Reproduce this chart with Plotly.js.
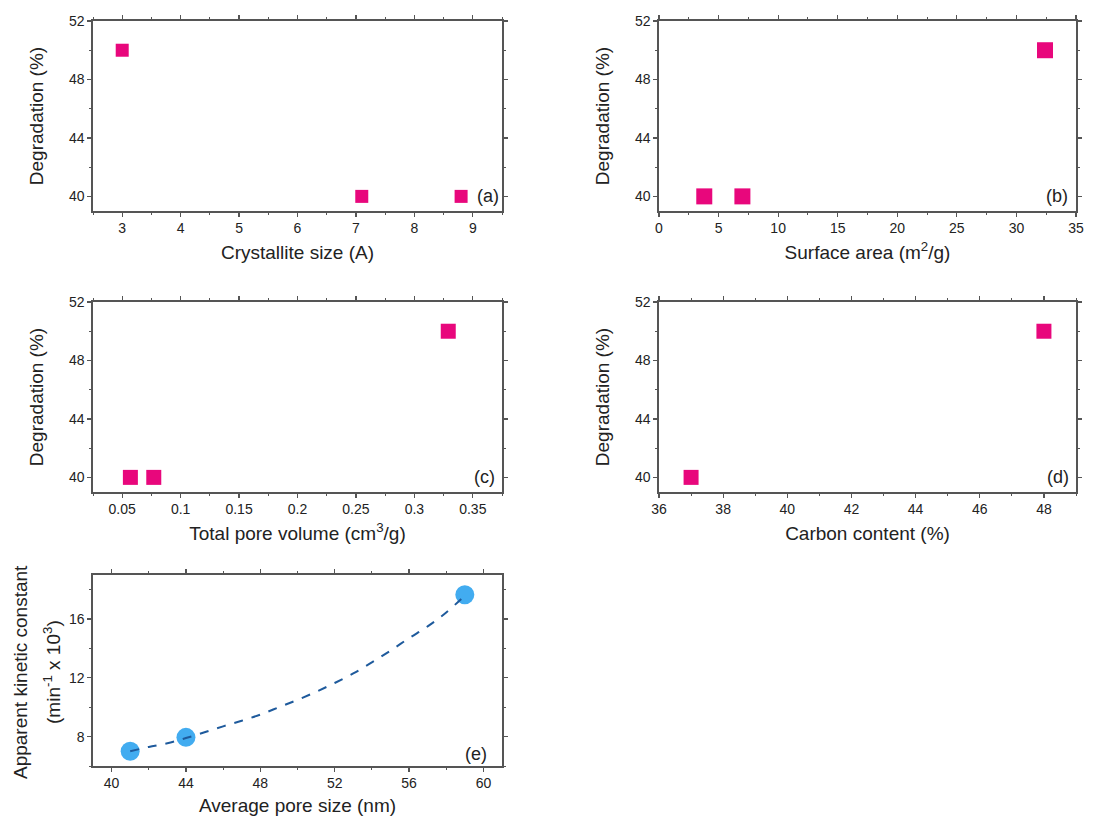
<!DOCTYPE html>
<html>
<head>
<meta charset="utf-8">
<script src="https://cdn.plot.ly/plotly-3.0.1.min.js"></script>
<style>html,body{margin:0;padding:0;background:#fff;}#chart{width:1108px;height:816px;}</style>
</head>
<body>
<div id="chart"></div>
<script>
// Panel (a): crystallite size vs degradation
const crystalliteSize = [3.0, 7.1, 8.8];
const degradationA = [50, 40, 40];
// Panel (b): surface area vs degradation
const surfaceArea = [3.8, 7.0, 32.4];
const degradationB = [40, 40, 50];
// Panel (c): total pore volume vs degradation
const poreVolume = [0.057, 0.077, 0.329];
const degradationC = [40, 40, 50];
// Panel (d): carbon content vs degradation
const carbonContent = [37.0, 48.0];
const degradationD = [40, 50];
// Panel (e): average pore size vs apparent kinetic constant
const poreSize = [41, 44, 59];
const kineticConstant = [7.0, 7.95, 17.65];
// Panel (e): fitted dashed curve
const fitX = [41, 42, 43, 44, 45, 46, 47, 48, 49, 50, 51, 52, 53, 54, 55, 56, 57, 58, 59];
const fitY = [7.0, 7.3, 7.55, 7.9, 8.3, 8.7, 9.08, 9.5, 10.0, 10.5, 11.05, 11.65, 12.3, 13.05, 13.85, 14.7, 15.5, 16.45, 17.6];

const panelLabels = ['(a)', '(b)', '(c)', '(d)', '(e)'];
const yTitleE = ['Apparent kinetic constant', '(min<sup>-1</sup> x 10<sup>3</sup>)'];

const FONT = 'Liberation Sans, Arial, Helvetica, sans-serif';
const PINK = '#E8077C';
const BLUE = '#42ACF0';
const DASH = '#1E5A9C';
const AX = '#555555';
const TXT = '#222222';

function sq(x, y, xa, ya, size) {
  return {x: x, y: y, xaxis: xa, yaxis: ya, type: 'scatter', mode: 'markers',
    marker: {symbol: 'square', size: size, color: PINK, line: {width: 0}}, showlegend: false, hoverinfo: 'x+y'};
}

const traces = [
  sq(crystalliteSize, degradationA, 'x', 'y', 13),
  sq(surfaceArea, degradationB, 'x2', 'y2', 16),
  sq(poreVolume, degradationC, 'x3', 'y3', 15),
  sq(carbonContent, degradationD, 'x4', 'y4', 15),
  {x: poreSize, y: kineticConstant, xaxis: 'x5', yaxis: 'y5', type: 'scatter', mode: 'markers',
    marker: {symbol: 'circle', size: 19, color: BLUE, line: {width: 0}}, showlegend: false, hoverinfo: 'x+y'},
  {x: fitX, y: fitY, xaxis: 'x5', yaxis: 'y5', type: 'scatter', mode: 'lines',
    line: {color: DASH, width: 2, dash: 'dash', shape: 'spline'}, showlegend: false, hoverinfo: 'skip'}
];

function xax(domain, range, dtick, minorD, title, anchor) {
  return {domain: domain, range: range, dtick: dtick, tick0: 0,
    anchor: anchor, showgrid: false, zeroline: false, showline: true, linecolor: AX, linewidth: 1.6,
    mirror: 'ticks', ticks: 'outside', ticklen: 4, tickwidth: 1.2, tickcolor: AX,
    minor: {dtick: minorD, ticks: 'outside', ticklen: 2.5, tickwidth: 1, tickcolor: AX, showgrid: false},
    tickfont: {family: FONT, size: 14, color: TXT},
    title: {text: title, font: {family: FONT, size: 19, color: TXT}, standoff: 10}};
}
function yax(domain, range, dtick, minorD, title, anchor, standoff) {
  return {domain: domain, range: range, dtick: dtick, tick0: 0, anchor: anchor,
    showgrid: false, zeroline: false, showline: true, linecolor: AX, linewidth: 1.6,
    mirror: 'ticks', ticks: 'outside', ticklen: 4, tickwidth: 1.2, tickcolor: AX,
    minor: {dtick: minorD, ticks: 'outside', ticklen: 2.5, tickwidth: 1, tickcolor: AX, showgrid: false},
    tickfont: {family: FONT, size: 14, color: TXT},
    title: {text: title, font: {family: FONT, size: 19, color: TXT}, standoff: standoff}};
}

const W = 1108, H = 816;
const px = (a, b) => [a / W, b / W];
const py = (top, bottom) => [1 - bottom / H, 1 - top / H];

const labelAnn = [
  {text: panelLabels[0], xref: 'x', yref: 'y', x: 9.26, y: 40},
  {text: panelLabels[1], xref: 'x2', yref: 'y2', x: 33.4, y: 40},
  {text: panelLabels[2], xref: 'x3', yref: 'y3', x: 0.36, y: 40},
  {text: panelLabels[3], xref: 'x4', yref: 'y4', x: 48.43, y: 40},
  {text: panelLabels[4], xref: 'x5', yref: 'y5', x: 59.6, y: 6.85}
].map(a => Object.assign(a, {showarrow: false, xanchor: 'center', yanchor: 'middle',
  font: {family: FONT, size: 18, color: TXT}}));

const titleAnn = [
  {text: yTitleE[0], x: 20 / W},
  {text: yTitleE[1], x: 52 / W}
].map(a => Object.assign(a, {xref: 'paper', yref: 'paper', y: 1 - 672 / H, textangle: -90,
  showarrow: false, xanchor: 'center', yanchor: 'middle', font: {family: FONT, size: 19, color: TXT}}));

const layout = {
  width: W, height: H,
  margin: {l: 0, r: 0, t: 0, b: 0},
  paper_bgcolor: '#ffffff', plot_bgcolor: '#ffffff',
  font: {family: FONT, color: TXT},
  xaxis: xax(px(93, 502), [2.5, 9.5], 1, 0.5, 'Crystallite size (A)', 'y'),
  yaxis: yax(py(21, 211), [39, 52], 4, 2, 'Degradation (%)', 'x', 20),
  xaxis2: xax(px(659, 1076), [0, 35], 5, 2.5, 'Surface area (m<sup>2</sup>/g)', 'y2'),
  yaxis2: yax(py(21, 211), [39, 52], 4, 2, 'Degradation (%)', 'x2', 20),
  xaxis3: xax(px(93, 502), [0.025, 0.375], 0.05, 0.025, 'Total pore volume (cm<sup>3</sup>/g)', 'y3'),
  yaxis3: yax(py(302, 492), [39, 52], 4, 2, 'Degradation (%)', 'x3', 20),
  xaxis4: xax(px(659, 1076), [36, 49], 2, 1, 'Carbon content (%)', 'y4'),
  yaxis4: yax(py(302, 492), [39, 52], 4, 2, 'Degradation (%)', 'x4', 20),
  xaxis5: xax(px(93, 502), [39, 61], 4, 2, 'Average pore size (nm)', 'y5'),
  yaxis5: yax(py(575, 766), [6, 19], 4, 2, '', 'x5', 14),
  annotations: labelAnn.concat(titleAnn)
};

Plotly.newPlot('chart', traces, layout, {displayModeBar: false, staticPlot: true});
</script>
</body>
</html>
